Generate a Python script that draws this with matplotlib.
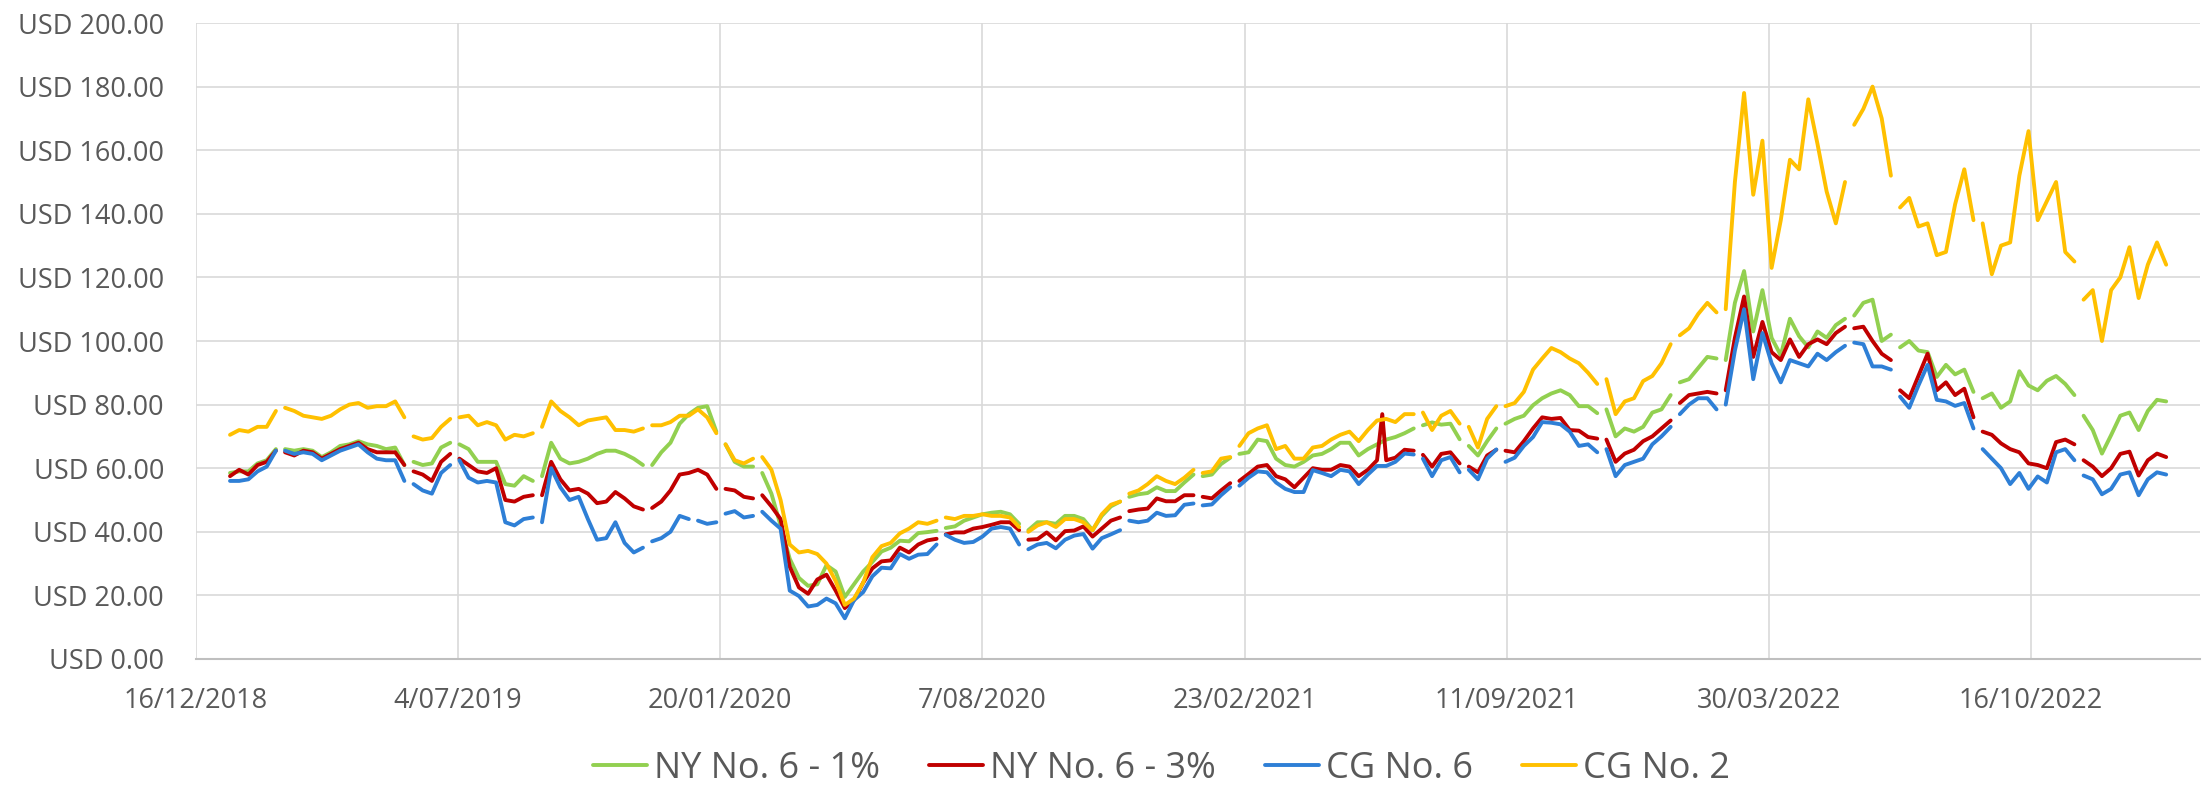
import matplotlib
matplotlib.use("Agg")
import matplotlib.pyplot as plt
import matplotlib.ticker as mticker
import numpy as np
import pandas as pd

plt.rcParams["font.family"] = ["Open Sans", "DejaVu Sans"]

# weekly closing prices, USD per barrel
dates = pd.date_range("2019-01-11", periods=212, freq="7D")

ny_1 = [
    58.5, 59, 59, 61.5, 62.5, 66, 66, 65.5, 66, 65.5,
    63.5, 65, 67, 67.5, 68.5, 67.5, 67, 66, 66.5, 61,
    62, 61, 61.5, 66.5, 68, 67.5, 66, 62, 62, 62,
    55, 54.5, 57.5, 56, 57.5, 68, 63, 61.5, 62, 63,
    64.5, 65.5, 65.5, 64.5, 63, 61, 61, 65, 68, 74,
    77, 79, 79.5, 71.5, 67.5, 62, 60.5, 60.5, 58.5, 52,
    42, 31.5, 25.5, 23, 23.5, 29.5, 27.5, 19.5, 23.5, 27.5,
    30.5, 33.8, 35, 37.2, 37, 39.6, 39.9, 40.3, 41.2, 41.7,
    43.5, 44.5, 45.5, 46, 46.3, 45.5, 42.5, 40.5, 43, 43,
    42.5, 45, 45, 44, 40.5, 45, 48, 49.5, 51, 51.8,
    52.2, 54, 52.8, 52.8, 55.5, 58, 57.5, 58, 61.3, 63.3,
    64.5, 65, 69, 68.5, 63, 61, 60.5, 62, 64, 64.5,
    66, 68, 68, 64, 66, 67.5, 69, 69.8, 71, 72.5,
    73.5, 74.4, 73.7, 74, 69.1, 67, 64, 68.5, 72.5, 74,
    75.5, 76.5, 79.8, 82, 83.5, 84.5, 83, 79.5, 79.5, 77.3,
    78.5, 70, 72.5, 71.5, 73, 77.5, 78.5, 83, 87, 88,
    91.5, 95, 94.5, 94, 112, 122, 103, 116, 101, 95.5,
    107, 101.5, 98, 103, 101, 105, 107, 108, 112, 113,
    100, 102, 98, 100, 97, 96.5, 88.7, 92.5, 89.5, 91,
    84, 82, 83.5, 79, 81, 90.5, 86, 84.5, 87.5, 89,
    86.5, 83, 76.5, 72, 64.6, 70.4, 76.5, 77.5, 72, 78,
    81.5, 81,
]

ny_3 = [
    57.5, 59.5, 58, 61, 62, 65.5, 65, 64, 65.5, 65,
    63, 64.5, 66, 67, 68, 66, 65, 65, 65, 61,
    59, 58, 56, 62, 64.5, 63, 61, 59, 58.5, 60,
    50, 49.5, 51, 51.5, 51.5, 62, 56.5, 53, 53.5, 52,
    49, 49.5, 52.5, 50.5, 48, 47, 47.5, 49.5, 53, 58,
    58.5, 59.5, 58, 53.5, 53.5, 53, 51, 50.5, 51.5, 48,
    44, 29, 22.5, 20.5, 25, 26.5, 21.5, 16, 18.5, 24,
    28.5, 30.7, 31, 35, 33.5, 36, 37.3, 37.8, 39.2, 39.8,
    39.8, 41, 41.5, 42.2, 43, 43, 40.5, 37.5, 37.7, 39.8,
    37.3, 40.2, 40.4, 41.7, 38.5, 41, 43.5, 44.5, 46.5, 47,
    47.3, 50.5, 49.6, 49.6, 51.5, 51.5, 51, 50.5, 53, 55.3,
    56, 58.2, 60.5, 61, 57.5, 56.5, 54, 57, 60, 59.5,
    59.5, 61, 60.5, 57.5, 59.5, 62.5, 62.5, 63.3, 65.8, 65.5,
    64.2, 60.5, 64.5, 65, 61.5, 60.5, 58.7, 64, 65.8, 65.5,
    65, 68.5, 72.5, 76, 75.5, 75.8, 72, 71.8, 69.8, 69.3,
    69, 62, 64.6, 65.8, 68.5, 70, 72.5, 75, 80.5, 83,
    83.5, 84, 83.5, 84.5, 101, 114, 95, 106, 96.5, 94,
    100.5, 95, 99, 100.5, 99, 102.5, 104.5, 104, 104.5, 100,
    96, 94, 84.5, 82, 89, 96, 84.5, 87, 83, 85,
    76, 71.5, 70.5, 67.8, 66, 65, 61.5, 61, 60, 68.2,
    69, 67.5, 62.5, 60.5, 57.5, 60, 64.5, 65.2, 57.7, 62.5,
    64.6, 63.5,
]

cg_6 = [
    56, 56, 56.5, 59, 60.5, 65.5, 65.5, 64.5, 65, 64.5,
    62.5, 64, 65.5, 66.5, 67.5, 65, 63, 62.5, 62.5, 56,
    55, 53, 52, 58.5, 61, 62.5, 57, 55.5, 56, 55.5,
    43, 42, 44, 44.5, 43, 60, 54, 50, 51, 44,
    37.5, 38, 43, 36.5, 33.5, 35, 37, 38, 40, 45,
    44, 43.5, 42.5, 43, 45.7, 46.5, 44.5, 45, 46.3, 43.5,
    41, 21.5, 19.8, 16.5, 17, 19, 17.5, 12.8, 18.5, 21,
    26, 28.7, 28.5, 33, 31.5, 32.8, 33, 36, 39, 37.5,
    36.5, 36.8, 38.5, 41, 41.5, 41, 36, 34.5, 36, 36.5,
    34.8, 37.5, 38.8, 39.3, 34.7, 38, 39.2, 40.5, 43.5, 43,
    43.5, 46, 45, 45.2, 48.5, 48.9, 48.3, 48.6, 51.5, 54,
    54.5, 57, 59, 58.7, 55.5, 53.5, 52.5, 52.5, 59.4, 58.5,
    57.5, 59.5, 59, 55, 58, 60.7, 60.7, 62, 64.6, 64.3,
    63, 57.5, 62.5, 63.5, 58.7, 59.5, 56.5, 63, 65.9, 62,
    63.3, 67, 69.8, 74.5, 74.3, 73.8, 71.5, 67, 67.5, 65,
    66, 57.5, 61, 62, 63, 67.5, 70, 73, 77, 80,
    82, 82, 78.5, 80, 97, 110, 88, 102.5, 93, 87,
    94, 93, 92, 96, 94, 96.5, 98.5, 99.5, 99, 92,
    92, 91, 82.5, 79, 86, 92.5, 81.5, 81, 79.6, 80.5,
    72.5, 66, 63, 60, 55, 58.5, 53.5, 57.4, 55.5, 65,
    66, 62.5, 57.7, 56.5, 51.8, 53.5, 58, 58.7, 51.5, 56.5,
    58.7, 58,
]

cg_2 = [
    70.5, 72, 71.5, 73, 73, 78, 79, 78, 76.5, 76,
    75.5, 76.5, 78.5, 80, 80.5, 79, 79.5, 79.5, 81, 76,
    70, 69, 69.5, 73, 75.5, 76, 76.5, 73.5, 74.5, 73.5,
    69, 70.5, 70, 71, 73, 81, 78, 76, 73.5, 75,
    75.5, 76, 72, 72, 71.5, 72.5, 73.5, 73.5, 74.5, 76.5,
    76.5, 78.5, 76, 71, 67.5, 62.5, 61.5, 63, 63.5, 59.5,
    50, 36, 33.5, 34, 33, 30, 24.5, 17, 19, 24,
    32, 35.5, 36.5, 39.5, 41, 43, 42.5, 43.5, 44.5, 44,
    45, 45, 45.5, 45, 45, 44.5, 41.5, 40, 42, 43,
    41.5, 44, 44, 43, 40.5, 45.5, 48.5, 49.5, 52, 53,
    55, 57.5, 56, 55, 57, 59.5, 58.5, 59, 63, 63.5,
    67, 71, 72.5, 73.5, 66, 67, 63, 63, 66.5, 67,
    69, 70.5, 71.5, 68.5, 72, 75, 75.5, 74.5, 77, 77,
    77.5, 72, 76.5, 78, 74, 73, 66.5, 75.5, 79.5, 79.5,
    80.5, 84, 91, 94.5, 97.8, 96.5, 94.5, 93, 90, 86.5,
    88, 77, 81, 82, 87.4, 89, 93, 99, 101.8, 104,
    108.5, 112, 109, 110, 150, 178, 146, 163, 123, 138,
    157, 154, 176, 162, 147, 137, 150, 168, 173, 180,
    170, 152, 142, 145, 136, 137, 127, 128, 143, 154,
    138, 137, 121, 130, 131, 152, 166, 138, 144, 150,
    128, 125, 113, 116, 100, 116, 120, 129.5, 113.5, 124,
    131, 124,
]

# days with no quote (US market holidays) - line is broken there
holiday_gaps = [
    "2019-02-18", "2019-05-27", "2019-07-04", "2019-09-02", "2019-11-28",
    "2020-01-20", "2020-02-17", "2020-07-06", "2020-09-07", "2020-11-26",
    "2021-01-18", "2021-02-15", "2021-07-05", "2021-08-09", "2021-09-06",
    "2021-11-25", "2022-01-17", "2022-02-21", "2022-05-30", "2022-07-04",
    "2022-09-05", "2022-11-24",
]
cg_6_extra_gaps = ["2019-12-31"]
ny_3_spike = ("2021-06-08", 77.0)

names = ["NY No. 6 - 1%", "NY No. 6 - 3%", "CG No. 6", "CG No. 2"]
colors = ["#92D050", "#C00000", "#2E7FD6", "#FFC000"]

tick_dates = pd.date_range("2018-12-16", periods=8, freq="200D")


def build(values, gaps, spike=None):
    s = pd.Series(values, index=dates, dtype=float)
    parts = [s, pd.Series(np.nan, index=pd.to_datetime(gaps))]
    if spike is not None:
        parts.append(pd.Series([spike[1]], index=pd.to_datetime([spike[0]])))
    return pd.concat(parts).sort_index()


series = [
    build(ny_1, holiday_gaps),
    build(ny_3, holiday_gaps, ny_3_spike),
    build(cg_6, holiday_gaps + cg_6_extra_gaps),
    build(cg_2, holiday_gaps),
]

fig = plt.figure(figsize=(22.04, 7.86), dpi=100)
ax = fig.add_axes([0.0889, 0.1616, 0.9094, 0.8091])

for s, name, c in zip(series, names, colors):
    ax.plot(s.index, s.values, color=c, linewidth=2.8, label=name,
            solid_joinstyle="round", solid_capstyle="round")

ax.set_ylim(0, 200)
ax.set_yticks(range(0, 201, 20))
ax.yaxis.set_major_formatter(mticker.FuncFormatter(lambda v, p: f"USD {v:.2f}"))

ax.set_xlim(pd.Timestamp("2018-12-16"), pd.Timestamp("2023-02-22"))
ax.set_xticks(tick_dates)
ax.set_xticklabels([f"{d.day}/{d.month:02d}/{d.year}" for d in tick_dates])

ax.grid(color="#D9D9D9", linewidth=1.2)
ax.set_axisbelow(True)
for side in ["top", "right", "left"]:
    ax.spines[side].set_visible(False)
ax.spines["bottom"].set_color("#BFBFBF")
ax.spines["bottom"].set_linewidth(1.5)

ax.tick_params(length=0, labelsize=19.5, colors="#595959")
ax.tick_params(axis="y", pad=23)
ax.tick_params(axis="x", pad=20)

fig.legend(loc="center", bbox_to_anchor=(0.527, 0.0216), ncol=4, frameon=False,
           fontsize=26, handlelength=1.5, handletextpad=0.2, columnspacing=1.35,
           labelcolor="#595959")

fig.savefig("out.png", dpi=100)
